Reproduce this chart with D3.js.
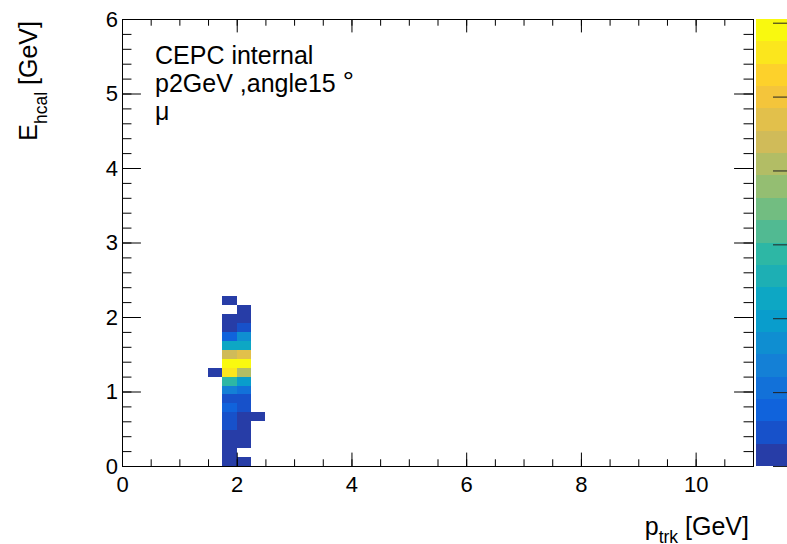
<!DOCTYPE html>
<html>
<head>
<meta charset="utf-8">
<script src="https://cdn.jsdelivr.net/npm/d3@7"></script>
<style>
  body { margin: 0; background: #fff; }
  svg { display: block; font-family: "Liberation Sans", Arial, Helvetica, sans-serif; }
</style>
</head>
<body>
<div id="chart"></div>
<script>
// E_hcal vs p_trk for 2 GeV muons at 15 degrees (COLZ style)
const xBinWidth = 0.25;
const yBinWidth = 0.12;

// counts per E_hcal bin (lower edges 0, 0.12, 0.24, ...) in the two filled p_trk columns
const countsP175 = [1, 1, 1, 1, 2, 2, 4, 3, 7, 14, 28, 30, 22, 11, 4, 1, 1, 0, 1];
const countsP200 = [1, 0, 1, 1, 1, 1, 2, 2, 5, 10, 20, 30, 23, 11, 8, 2, 1, 1, 0];
// single cells off the main column: [p low edge, E low edge, count]
const strayCells = [[1.5, 1.20, 1], [2.25, 0.60, 1]];

const xDomain = [0, 11];
const yDomain = [0, 6];
const xTicks = [0, 2, 4, 6, 8, 10];
const yTicks = [0, 1, 2, 3, 4, 5, 6];
const zMax = 30.25;
const zTicks = [0, 5, 10, 15, 20, 25, 30];
const nLevels = 20;

const labelLines = ["CEPC internal", "p2GeV ,angle15 ", "\u03bc"];

// kBird palette stops
const birdStops = [0, 0.125, 0.25, 0.375, 0.5, 0.625, 0.75, 0.875, 1];
const birdColors = ["#352a87", "#0f5cdd", "#1481d6", "#06a4ca", "#2eb7a4",
                    "#87bf77", "#d1bb59", "#fec832", "#f9fb0e"];

const width = 787, height = 544;
const frame = { left: 122, right: 753, top: 19, bottom: 466 };
const tickFont = 22;

const svg = d3.select("#chart").append("svg")
    .attr("width", width)
    .attr("height", height);

const x = d3.scaleLinear().domain(xDomain).range([frame.left, frame.right]);
const y = d3.scaleLinear().domain(yDomain).range([frame.bottom, frame.top]);

const bird = d3.scaleLinear().domain(birdStops).range(birdColors);
const levelColors = d3.range(nLevels).map(c => bird(Math.floor((c + 0.99) * 255 / nLevels) / 255));
const color = d3.scaleQuantize().domain([0, zMax]).range(levelColors);

// cells
let cells = countsP175.map((n, i) => ({ p: 1.75, e: i * yBinWidth, n }))
    .concat(countsP200.map((n, i) => ({ p: 2.0, e: i * yBinWidth, n })))
    .concat(strayCells.map(d => ({ p: d[0], e: d[1], n: d[2] })))
    .filter(d => d.n > 0);

svg.append("g")
    .selectAll("rect")
    .data(cells)
    .enter()
    .append("rect")
    .attr("x", d => x(d.p))
    .attr("y", d => y(d.e + yBinWidth))
    .attr("width", d => x(d.p + xBinWidth) - x(d.p))
    .attr("height", d => y(d.e) - y(d.e + yBinWidth))
    .attr("shape-rendering", "crispEdges")
    .attr("fill", d => color(d.n));

// axes: ticks on all four sides, pointing inward
const plotH = frame.bottom - frame.top, plotW = frame.right - frame.left;
const xMajor = 0.03 * plotH, yMajor = 0.03 * plotW;
const xMinorVals = d3.range(0, 11.01, 0.5);
const yMinorVals = d3.range(0, 6.01, 0.2);

function styleAxis(g) {
    g.select(".domain").remove();
    g.selectAll("line").attr("stroke", "#000");
    g.selectAll("text").attr("font-size", tickFont).attr("fill", "#000")
        .attr("font-family", "Liberation Sans, Arial, Helvetica, sans-serif");
}

svg.append("g").attr("transform", `translate(0,${frame.bottom})`)
    .call(d3.axisBottom(x).tickValues(xTicks).tickFormat(d3.format("d")).tickSize(-xMajor).tickPadding(10))
    .call(styleAxis);
svg.append("g").attr("transform", `translate(0,${frame.bottom})`)
    .call(d3.axisBottom(x).tickValues(xMinorVals).tickFormat("").tickSize(-xMajor / 2))
    .call(styleAxis);
svg.append("g").attr("transform", `translate(0,${frame.top})`)
    .call(d3.axisTop(x).tickValues(xTicks).tickFormat("").tickSize(-xMajor))
    .call(styleAxis);
svg.append("g").attr("transform", `translate(0,${frame.top})`)
    .call(d3.axisTop(x).tickValues(xMinorVals).tickFormat("").tickSize(-xMajor / 2))
    .call(styleAxis);

svg.append("g").attr("transform", `translate(${frame.left},0)`)
    .call(d3.axisLeft(y).tickValues(yTicks).tickFormat(d3.format("d")).tickSize(-yMajor).tickPadding(4))
    .call(styleAxis);
svg.append("g").attr("transform", `translate(${frame.left},0)`)
    .call(d3.axisLeft(y).tickValues(yMinorVals).tickFormat("").tickSize(-yMajor / 2))
    .call(styleAxis);
svg.append("g").attr("transform", `translate(${frame.right},0)`)
    .call(d3.axisRight(y).tickValues(yTicks).tickFormat("").tickSize(-yMajor))
    .call(styleAxis);
svg.append("g").attr("transform", `translate(${frame.right},0)`)
    .call(d3.axisRight(y).tickValues(yMinorVals).tickFormat("").tickSize(-yMajor / 2))
    .call(styleAxis);

// frame
svg.append("rect")
    .attr("x", frame.left + 0.5)
    .attr("y", frame.top + 0.5)
    .attr("width", plotW)
    .attr("height", plotH)
    .attr("fill", "none")
    .attr("stroke", "#000");

// colour palette on the right (mostly outside the window)
const z = d3.scaleLinear().domain([0, zMax]).range([frame.bottom, frame.top]);
const palX = 755.5;
svg.append("g")
    .selectAll("rect")
    .data(levelColors)
    .enter()
    .append("rect")
    .attr("x", palX)
    .attr("width", 60)
    .attr("y", (c, i) => z((i + 1) * zMax / nLevels))
    .attr("height", (c, i) => z(i * zMax / nLevels) - z((i + 1) * zMax / nLevels))
    .attr("shape-rendering", "crispEdges")
    .attr("fill", c => c);
svg.append("g").attr("transform", "translate(787,0)")
    .call(d3.axisRight(z).tickValues(zTicks).tickFormat("").tickSize(-14))
    .call(styleAxis)
    .selectAll("line").attr("stroke", "#222");

// label block
const label = svg.append("g").attr("font-size", 25).attr("fill", "#000");
labelLines.forEach((t, i) => {
    const txt = label.append("text").attr("x", 155).attr("y", 64 + i * 28).text(t);
    if (i === 1) txt.append("tspan").attr("font-size", 28).attr("dy", -1).text("\u00b0");
});

// axis titles
const xt = svg.append("text")
    .attr("x", 749).attr("y", 535)
    .attr("text-anchor", "end")
    .attr("font-size", 25)
    .text("p");
xt.append("tspan").attr("font-size", 17.5).attr("dy", 8).text("trk");
xt.append("tspan").attr("dy", -8).text(" [GeV]");

const yt = svg.append("text")
    .attr("transform", "translate(37,21) rotate(-90)")
    .attr("text-anchor", "end")
    .attr("font-size", 25)
    .text("E");
yt.append("tspan").attr("font-size", 17.5).attr("dy", 10).text("hcal");
yt.append("tspan").attr("dy", -10).text(" [GeV]");
</script>
</body>
</html>
